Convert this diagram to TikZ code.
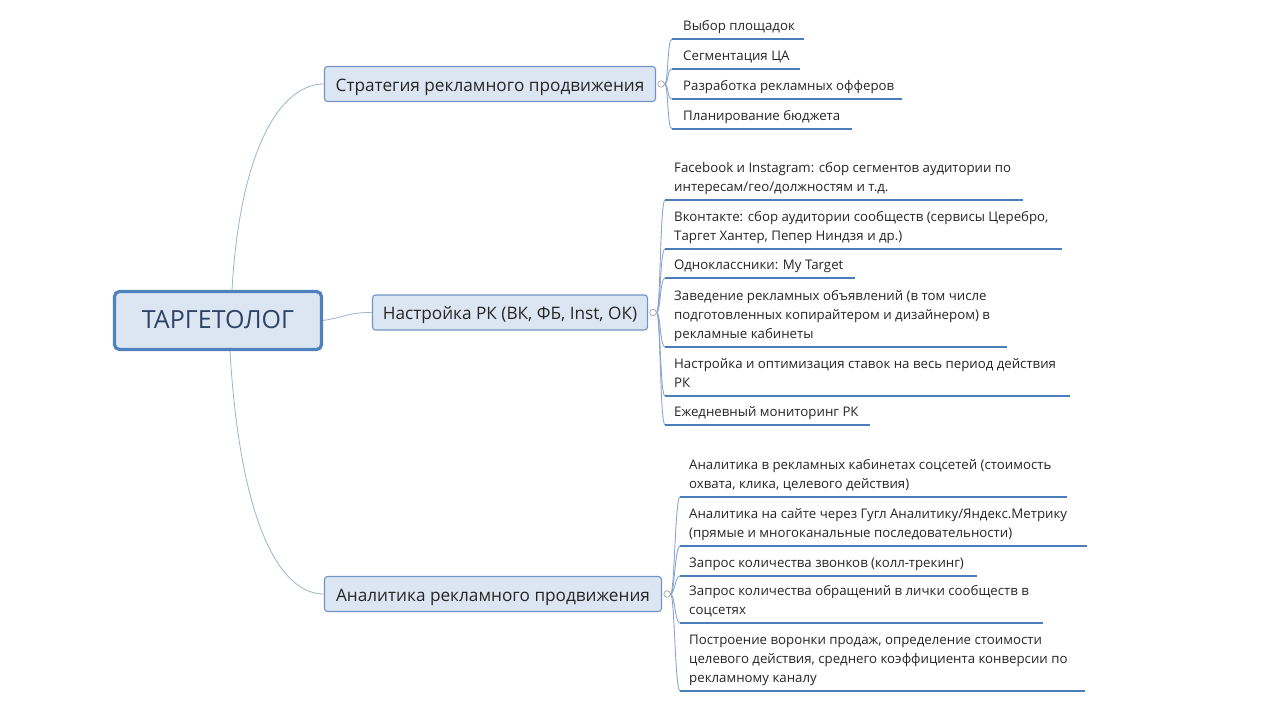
\documentclass[tikz,border=0pt]{standalone}
\usepackage{fontspec}
\setmainfont{Open Sans}
\definecolor{boxfill}{HTML}{DCE6F2}
\definecolor{rootborder}{HTML}{4F81BD}
\definecolor{boxborder}{HTML}{7196C6}
\definecolor{ulinec}{HTML}{4A7EBB}
\definecolor{connc}{HTML}{9FB3CB}
\definecolor{bconnc}{HTML}{8AA6CC}
\definecolor{txt}{HTML}{262626}
\definecolor{roottxt}{HTML}{2E4466}
\tikzset{
 rootbox/.style={draw=rootborder, line width=3.2pt, fill=boxfill, rounded corners=5pt, minimum width=207pt, minimum height=58pt, inner sep=0pt, font=\fontsize{25}{30}\selectfont, text=roottxt, text height=17pt, text depth=1pt},
 topicbox/.style={draw=boxborder, line width=1.1pt, fill=boxfill, rounded corners=3pt, minimum height=35pt, inner sep=0pt, font=\fontsize{17.2}{21}\selectfont, text=txt, text height=16pt, text depth=2pt},
 item/.style={anchor=south west, inner sep=0pt, align=left, font=\fontsize{13.25}{19}\selectfont, text=txt, execute at end node=\strut},
 uline/.style={draw=ulinec, line width=1.8pt},
 mainconn/.style={draw=connc, line width=0.8pt},
 subconn/.style={draw=bconnc, line width=0.9pt},
 knob/.style={circle, draw=black!40, fill=white, line width=0.6pt, minimum size=6.5pt, inner sep=0pt},
}
\newcommand\mmitem[7]{%
 \coordinate (#1l) at (#3,#5);
 \coordinate (#1r) at (#6,#5);
 \draw[subconn] (#2.east) .. controls +(4,0) and +(-5,0) .. (#1l);
 \draw[uline] (#1l) -- (#1r);
 \node[item] (#1) at (#4,#5-2.8) {#7};
}
\begin{document}
\begin{tikzpicture}[x=1pt,y=-1pt]
\fill[white] (0,0) rectangle (1280,720);
\useasboundingbox (0,0) rectangle (1280,720);

\node[rootbox] (root) at (218,320.5) {ТАРГЕТОЛОГ};
\node[topicbox, minimum width=331pt] (strat) at (490,84) {Стратегия рекламного продвижения};
\node[topicbox, minimum width=275pt] (nast) at (510,312.5) {Настройка РК (ВК, ФБ, Inst, ОК)};
\node[topicbox, minimum width=337pt] (anal) at (493,594) {Аналитика рекламного продвижения};

\draw[mainconn] ([xshift=14pt]root.north) .. controls +(8,-140) and +(-44,0) .. (strat.west);
\draw[mainconn] (root.east) .. controls +(25,-4) and +(-25,0) .. (nast.west);
\draw[mainconn] ([xshift=12pt]root.south) .. controls +(10,170) and +(-45,0) .. (anal.west);

\node[knob] (k1) at ([xshift=5pt]strat.east) {};
\node[knob] (k2) at ([xshift=5pt]nast.east) {};
\node[knob] (k3) at ([xshift=5pt]anal.east) {};

\mmitem{s1}{k1}{672}{683}{39}{804}{Выбор площадок}
\mmitem{s2}{k1}{672}{683}{69}{800}{Сегментация ЦА}
\mmitem{s3}{k1}{672}{683}{99}{902}{Разработка рекламных офферов}
\mmitem{s4}{k1}{672}{683}{129}{852}{Планирование бюджета}

\mmitem{n1}{k2}{665}{674}{200}{1023}{Facebook и Instagram: сбор сегментов аудитории по\\интересам/гео/должностям и т.д.}
\mmitem{n2}{k2}{665}{674}{249}{1062}{Вконтакте: сбор аудитории сообществ (сервисы Церебро,\\Таргет Хантер, Пепер Ниндзя и др.)}
\mmitem{n3}{k2}{665}{674}{278}{855}{Одноклассники: My Target}
\mmitem{n4}{k2}{665}{674}{347}{1007}{Заведение рекламных объявлений (в том числе\\подготовленных копирайтером и дизайнером) в\\рекламные кабинеты}
\mmitem{n5}{k2}{665}{674}{396}{1070}{Настройка и оптимизация ставок на весь период действия\\РК}
\mmitem{n6}{k2}{665}{674}{425}{870}{Ежедневный мониторинг РК}

\mmitem{a1}{k3}{680}{689}{497}{1067}{Аналитика в рекламных кабинетах соцсетей (стоимость\\охвата, клика, целевого действия)}
\mmitem{a2}{k3}{680}{689}{546}{1087}{Аналитика на сайте через Гугл Аналитику/Яндекс.Метрику\\(прямые и многоканальные последовательности)}
\mmitem{a3}{k3}{680}{689}{576}{977}{Запрос количества звонков (колл-трекинг)}
\mmitem{a4}{k3}{680}{689}{623}{1043}{Запрос количества обращений в лички сообществ в\\соцсетях}
\mmitem{a5}{k3}{680}{689}{691}{1085}{Построение воронки продаж, определение стоимости\\целевого действия, среднего коэффициента конверсии по\\рекламному каналу}
\end{tikzpicture}
\end{document}
